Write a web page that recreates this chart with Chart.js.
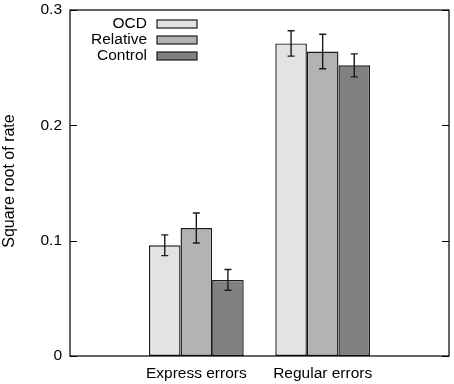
<!DOCTYPE html>
<html>
<head>
<meta charset="utf-8">
<script src="https://cdn.jsdelivr.net/npm/chart.js@4.4.0/dist/chart.umd.min.js"></script>
<style>
    html, body { margin: 0; padding: 0; background: #fff; }
    #wrap { width: 454px; height: 384px; }
</style>
</head>
<body>
<div id="wrap"><canvas id="barChart" width="454" height="384"></canvas></div>
<script>
// Data
const categories = ['Express errors', 'Regular errors'];
const seriesNames = ['OCD', 'Relative', 'Control'];
const ocdValues = [0.096, 0.271];
const relativeValues = [0.111, 0.264];
const controlValues = [0.066, 0.252];
const ocdErrors = [0.009, 0.011];
const relativeErrors = [0.013, 0.015];
const controlErrors = [0.009, 0.010];
const yTicks = [0, 0.1, 0.2, 0.3];

const barColors = ['#e3e3e3', '#b3b3b3', '#808080'];
const edgeColor = '#1a1a1a';
const fontFamily = '"Liberation Sans", Arial, sans-serif';

// pad the axis with empty slots on both sides (gnuplot style x range)
const labels = [''].concat(categories, ['']);
const pad = (arr) => [null].concat(arr, [null]);

const values = [ocdValues, relativeValues, controlValues];
const errors = [ocdErrors, relativeErrors, controlErrors];

const datasets = seriesNames.map((name, i) => ({
    label: name,
    data: pad(values[i]),
    errors: pad(errors[i]),
    backgroundColor: barColors[i],
    borderColor: edgeColor,
    borderWidth: 1.4,
    borderSkipped: false,
    categoryPercentage: 0.75,
    barPercentage: 1.0
}));

// box, inner ticks, error bars, legend and axis title
const decorations = {
    id: 'decorations',
    afterDatasetsDraw(chart) {
        const ctx = chart.ctx;
        const y = chart.scales.y;
        ctx.save();
        ctx.strokeStyle = edgeColor;
        ctx.lineWidth = 1.4;
        chart.data.datasets.forEach((ds, i) => {
            const meta = chart.getDatasetMeta(i);
            meta.data.forEach((bar, j) => {
                if (ds.data[j] == null) return;
                const top = y.getPixelForValue(ds.data[j] + ds.errors[j]);
                const bottom = y.getPixelForValue(ds.data[j] - ds.errors[j]);
                ctx.beginPath();
                ctx.moveTo(bar.x, top);
                ctx.lineTo(bar.x, bottom);
                ctx.moveTo(bar.x - 3.5, top);
                ctx.lineTo(bar.x + 3.5, top);
                ctx.moveTo(bar.x - 3.5, bottom);
                ctx.lineTo(bar.x + 3.5, bottom);
                ctx.stroke();
            });
        });
        ctx.restore();
    },
    afterDraw(chart) {
        const ctx = chart.ctx;
        const area = chart.chartArea;
        const y = chart.scales.y;
        ctx.save();
        ctx.strokeStyle = '#000';
        ctx.lineWidth = 1.2;
        ctx.strokeRect(area.left, area.top, area.right - area.left, area.bottom - area.top);

        // inward tick marks on both sides
        ctx.beginPath();
        yTicks.forEach(v => {
            const py = Math.round(y.getPixelForValue(v)) + 0.5;
            ctx.moveTo(area.left, py);
            ctx.lineTo(area.left + 7, py);
            ctx.moveTo(area.right, py);
            ctx.lineTo(area.right - 7, py);
        });
        ctx.stroke();

        // legend, text right aligned with the key to its right
        ctx.font = '15.5px ' + fontFamily;
        ctx.textAlign = 'right';
        ctx.textBaseline = 'middle';
        seriesNames.forEach((name, i) => {
            const cy = area.top + 14 + i * 16;
            ctx.fillStyle = '#000';
            ctx.fillText(name, area.left + 77, cy);
            ctx.fillStyle = barColors[i];
            ctx.fillRect(area.left + 87, cy - 4, 40, 8);
            ctx.strokeStyle = edgeColor;
            ctx.lineWidth = 1.2;
            ctx.strokeRect(area.left + 87, cy - 4, 40, 8);
        });

        // y axis title
        ctx.translate(10, 181);
        ctx.rotate(-Math.PI / 2);
        ctx.textAlign = 'center';
        ctx.fillStyle = '#000';
        ctx.font = '16px ' + fontFamily;
        ctx.fillText('Square root of rate', 0, 0);
        ctx.restore();
    }
};

const ctx = document.getElementById('barChart').getContext('2d');
new Chart(ctx, {
    type: 'bar',
    data: { labels, datasets },
    plugins: [decorations],
    options: {
        responsive: false,
        animation: false,
        layout: { padding: { top: 10, right: 5, left: 0, bottom: 0 } },
        plugins: {
            legend: { display: false },
            tooltip: { enabled: false }
        },
        scales: {
            x: {
                type: 'category',
                offset: false,
                grid: { display: false, drawTicks: false },
                border: { display: false },
                ticks: {
                    color: '#000',
                    font: { size: 15.5, family: fontFamily },
                    padding: 8,
                    maxRotation: 0,
                    autoSkip: false
                },
                afterFit: (scale) => {
                    scale.height = 28;
                    scale.paddingLeft = 0;
                    scale.paddingRight = 0;
                }
            },
            y: {
                min: 0,
                max: 0.3,
                grid: { display: false, drawTicks: false },
                border: { display: false },
                afterBuildTicks: (scale) => {
                    scale.ticks = yTicks.map(v => ({ value: v }));
                },
                ticks: {
                    color: '#000',
                    font: { size: 15.5, family: fontFamily },
                    padding: 8,
                    callback: (v) => v === 0 ? '0' : v.toFixed(1)
                },
                afterFit: (scale) => {
                    scale.width = 70;
                    scale.paddingTop = 0;
                    scale.paddingBottom = 0;
                }
            }
        }
    }
});
</script>
</body>
</html>
